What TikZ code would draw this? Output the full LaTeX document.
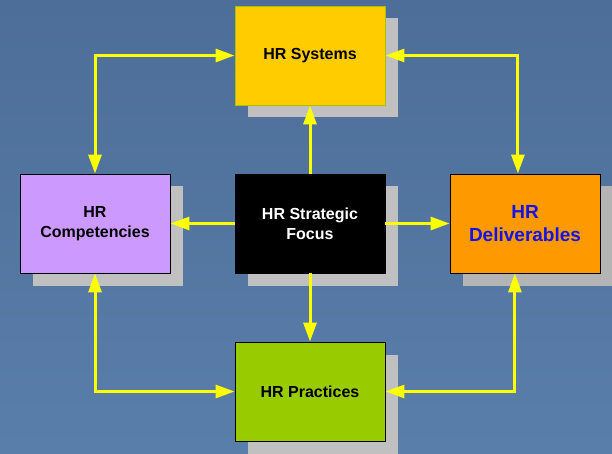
\documentclass[tikz,border=0pt]{standalone}
\usepackage{fontspec}
\setmainfont{Liberation Sans}
\usetikzlibrary{arrows.meta,calc}

\definecolor{bgtop}{HTML}{4C6E98}
\definecolor{bgbot}{HTML}{5A7EAA}
\definecolor{shadowgray}{HTML}{C0C0C0}
\definecolor{shadowdark}{HTML}{B4B4B4}
\definecolor{sysfill}{HTML}{FFCC00}
\definecolor{sysedge}{HTML}{A8C000}
\definecolor{compfill}{HTML}{CC99FF}
\definecolor{delivfill}{HTML}{FF9900}
\definecolor{pracfill}{HTML}{99CC00}
\definecolor{linkcol}{HTML}{FFFF00}
\definecolor{delivtext}{HTML}{1414E6}

\tikzset{
  hrbox/.style={rectangle, minimum width=150pt, minimum height=99pt,
    inner sep=0pt, align=center, draw=black, line width=0.9pt,
    font=\bfseries\fontsize{16}{20}\selectfont},
  boxshadow/.style={fill=shadowgray},
  link/.style={draw=linkcol, line width=3pt,
    -{Triangle[length=19pt,width=13pt]}},
  twoway/.style={draw=linkcol, line width=3pt,
    {Triangle[length=19pt,width=13pt]}-{Triangle[length=19pt,width=13pt]}},
}

\begin{document}
\begin{tikzpicture}[x=1pt,y=-1pt]
  % backdrop
  \shade[top color=bgtop, bottom color=bgbot] (0,0) rectangle (612,454);
  \useasboundingbox (0,0) rectangle (612,454);

  % drop shadows behind the boxes
  \fill[boxshadow] (247.5,18.5) rectangle (397.5,117.5);
  \fill[boxshadow] (32.5,186.5) rectangle (182.5,285.5);
  \fill[boxshadow] (247.5,186.5) rectangle (397.5,285.5);
  \fill[boxshadow, fill=shadowdark] (462.5,186.5) rectangle (612.5,285.5);
  \fill[boxshadow] (247.5,354.5) rectangle (397.5,454);

  % boxes
  \node[hrbox, fill=sysfill, draw=sysedge] (sys) at (310,55.5) {HR Systems};
  \node[hrbox, fill=compfill] (comp) at (95,223.5) {HR\\Competencies};
  \node[hrbox, fill=black, text=white] (focus) at (310,223.5) {HR Strategic\\Focus};
  \node[hrbox, fill=delivfill, text=delivtext,
        font=\bfseries\fontsize{19}{23}\selectfont] (deliv) at (525,223.5) {HR\\Deliverables};
  \node[hrbox, fill=pracfill] (prac) at (310,391.5) {HR Practices};

  % anchor points on the deliverables box
  \coordinate (dtop) at ($(deliv.north west)!0.453!(deliv.north east)$);
  \coordinate (dbot) at ($(deliv.south west)!0.433!(deliv.south east)$);

  % from the strategic focus outwards
  \draw[link] (focus.north) -- (sys.south);
  \draw[link] (focus.west) -- (comp.east);
  \draw[link] (focus.east) -- (deliv.west);
  \draw[link] (focus.south) -- (prac.north);

  % links around the outer ring
  \draw[twoway] (sys.west) -| (comp.north);
  \draw[twoway] (sys.east) -| (dtop);
  \draw[twoway] (comp.south) |- (prac.west);
  \draw[twoway] (dbot) |- (prac.east);
\end{tikzpicture}
\end{document}
